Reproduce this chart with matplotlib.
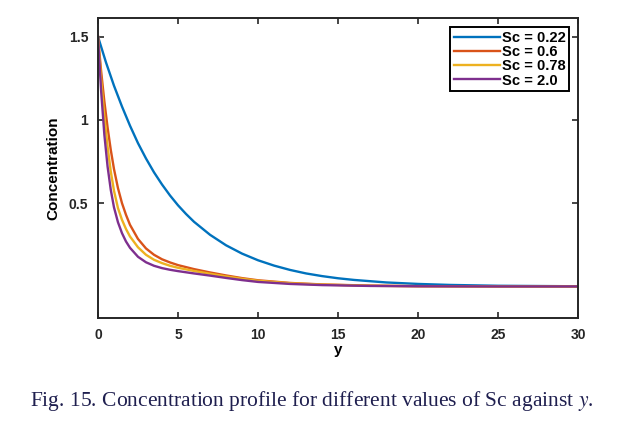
import numpy as np
import matplotlib
matplotlib.use('Agg')
import matplotlib.pyplot as plt

matplotlib.rcParams['font.family'] = 'Liberation Sans'
matplotlib.rcParams['mathtext.fontset'] = 'stix'

# values
y_blue = [0, 0.5, 1, 1.5, 2, 2.5, 3, 3.5, 4, 4.5, 5, 5.5, 6, 7, 8, 9, 10, 11,
          12, 13, 14, 15, 16, 18, 20, 22, 25, 30]
c_blue = [1.50, 1.345, 1.205, 1.08, 0.965, 0.86, 0.768, 0.685, 0.612, 0.546,
          0.487, 0.435, 0.388, 0.31, 0.247, 0.197, 0.157, 0.125, 0.099, 0.078,
          0.062, 0.049, 0.039, 0.024, 0.015, 0.009, 0.004, 0.001]

y_fast = [0, 0.2, 0.4, 0.6, 0.8, 1.0, 1.25, 1.5, 1.75, 2, 2.5, 3, 3.5, 4,
          4.5, 5, 6, 7, 8, 9, 10, 12, 14, 17, 20, 25, 30]
c_06 = [1.50, 1.29, 1.11, 0.955, 0.82, 0.705, 0.59, 0.50, 0.43, 0.37, 0.285,
        0.228, 0.19, 0.163, 0.144, 0.128, 0.104, 0.084, 0.066, 0.050, 0.037,
        0.021, 0.012, 0.005, 0.002, 0.0, 0.0]
c_078 = [1.50, 1.24, 1.02, 0.84, 0.69, 0.575, 0.47, 0.40, 0.345, 0.30, 0.235,
         0.19, 0.16, 0.14, 0.124, 0.112, 0.093, 0.076, 0.06, 0.046, 0.034,
         0.019, 0.011, 0.004, 0.001, 0.0, 0.0]
c_20 = [1.50, 1.17, 0.91, 0.72, 0.58, 0.475, 0.385, 0.32, 0.27, 0.232, 0.178,
        0.145, 0.124, 0.11, 0.10, 0.092, 0.078, 0.065, 0.051, 0.038, 0.027,
        0.015, 0.008, 0.003, 0.001, 0.0, 0.0]

labels = ['Sc = 0.22', 'Sc = 0.6', 'Sc = 0.78', 'Sc = 2.0']
colors = ['#0072BD', '#D95319', '#EDB120', '#7E2F8E']

xticks = [0, 5, 10, 15, 20, 25, 30]
yticks = [0.5, 1, 1.5]

fig = plt.figure(figsize=(6.32, 4.23), dpi=100)
ax = fig.add_axes([0.155, 0.248, 0.76, 0.709])

series = [(y_blue, c_blue), (y_fast, c_06), (y_fast, c_078), (y_fast, c_20)]
for (xs, cs), lab, col in zip(series, labels, colors):
    ax.plot(xs, cs, color=col, linewidth=1.7, label=lab)

ax.set_xlim(0, 30)
ax.set_ylim(-0.19, 1.61)
ax.set_xticks(xticks)
ax.set_yticks(yticks)
ax.set_yticklabels(['0.5', '1', '1.5'])
ax.tick_params(direction='in', top=True, right=True, length=4, width=1.2,
               labelsize=10, colors='#262626', pad=7)
for lbl in ax.get_xticklabels() + ax.get_yticklabels():
    lbl.set_fontweight('bold')
for sp in ax.spines.values():
    sp.set_linewidth(1.4)
    sp.set_color('#262626')

ax.set_xlabel('y', fontsize=11, fontweight='bold', labelpad=1)
ax.set_ylabel('Concentration', fontsize=11, fontweight='bold', labelpad=6)

leg = ax.legend(loc='upper right', fancybox=False, framealpha=1,
                edgecolor='black', prop={'weight': 'bold', 'size': 10.6},
                handlelength=3.1, handletextpad=0.15, labelspacing=0.02,
                borderpad=0.25, borderaxespad=0.6)
leg.get_frame().set_linewidth(1.4)

fig.text(0.494, 0.052, 'Fig. 15. Concentration profile for different values of Sc against $y$.',
         ha='center', va='center', fontsize=15.5, family='Liberation Serif',
         color='#1f1f4f')

plt.savefig('out.png', dpi=100)
plt.close()
